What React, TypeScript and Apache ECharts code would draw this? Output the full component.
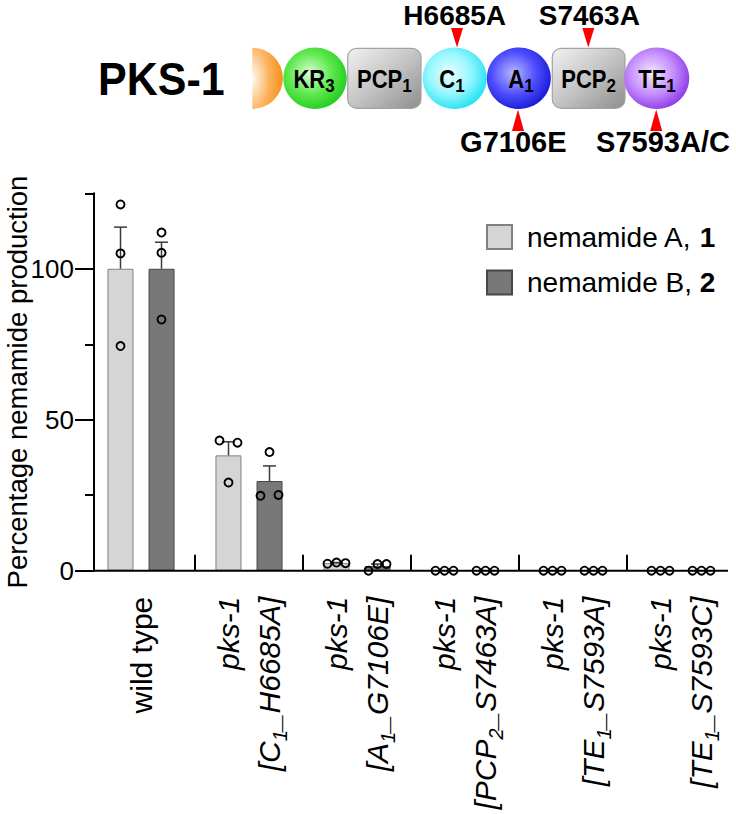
import React, { useEffect, useRef } from 'react';
import * as echarts from 'echarts';

// ---------- data ----------
const categories = [
  'wild type',
  'pks-1 [C1_H6685A]',
  'pks-1 [A1_G7106E]',
  'pks-1 [PCP2_S7463A]',
  'pks-1 [TE1_S7593A]',
  'pks-1 [TE1_S7593C]',
];
const seriesNames = ['nemamide A, 1', 'nemamide B, 2'];
const meanA = [100, 38.2, 2.5, 0, 0, 0];
const meanB = [100, 29.7, 1.5, 0, 0, 0];
const semA = [13.8, 4.5, 0.2, 0, 0, 0];
const semB = [8.8, 5.0, 0.7, 0, 0, 0];
const pointsA = [
  [121.3, 105.1, 74.4],
  [43.1, 42.4, 29.2],
  [2.3, 2.7, 2.5],
  [0, 0, 0],
  [0, 0, 0],
  [0, 0, 0],
];
const pointsB = [
  [112.0, 105.3, 83.2],
  [39.3, 24.8, 25.1],
  [0, 2.2, 2.2],
  [0, 0, 0],
  [0, 0, 0],
  [0, 0, 0],
];
// horizontal scatter slot of each point (-1 left, 0 centre, +1 right)
const jitterA = [[0, 0, 0], [-1, 1, 0], [-1, 0, 1], [-1, 0, 1], [-1, 0, 1], [-1, 0, 1]];
const jitterB = [[0, 0, 0], [0, -1, 1], [-1, 0, 1], [-1, 0, 1], [-1, 0, 1], [-1, 0, 1]];
const yMajorTicks = [0, 50, 100];
const yMinorTicks = [25, 75, 125];
const yMax = 125;
const yTitle = 'Percentage nemamide production';
const proteinName = 'PKS-1';
const domainNames = [['KR', '3'], ['PCP', '1'], ['C', '1'], ['A', '1'], ['PCP', '2'], ['TE', '1']];
const mutationsTop = ['H6685A', 'S7463A'];
const mutationsBottom = ['G7106E', 'S7593A/C'];

// ---------- layout / style ----------
const F = '"Liberation Sans", Arial, Helvetica, sans-serif';
const GRID_LEFT = 87;
const GRID_TOP = 193.3;
const GRID_W = 648;
const GRID_H = 377.4;
const Y_INSET = 7; // y axis sits 7px inside the first category band
const SERIES_SHIFT = 20.5 / 108; // bar centre offset in category units
const JITTER = 9 / 108;
const COLORS = ['#d5d5d5', '#787878'];
const BORDERS = ['#808080', '#474747'];

let measureCtx: CanvasRenderingContext2D | null = null;
function textWidth(text: string, size: number, weight = 'bold') {
  if (!measureCtx) {
    const c = document.createElement('canvas');
    measureCtx = c.getContext('2d');
  }
  if (!measureCtx) return text.length * size * 0.6;
  measureCtx.font = `${weight} ${size}px ${F}`;
  return measureCtx.measureText(text).width;
}

function xLabel(v: string) {
  if (!v.startsWith('pks-1 ')) return `{n|${v}}`;
  const rest = v.slice(6);
  const m = rest.match(/^\[([A-Z]+)(\d)(_.*)$/);
  if (!m) return `{i|pks-1}\n{i|${rest}}`;
  return `{i|pks-1}\n{i|[${m[1]}}{s|${m[2]}}{i|${m[3]}}`;
}

function diagram(): any[] {
  const CY = 78.3;
  const RY = 30.7;
  const els: any[] = [];
  const radial = (stops: string[], x = 0.42, y = 0.42, r = 0.62) => ({
    type: 'radial', x, y, r,
    colorStops: [
      { offset: 0, color: stops[0] },
      { offset: 0.55, color: stops[1] },
      { offset: 1, color: stops[2] },
    ],
  });
  const grayFill = {
    type: 'linear', x: 0, y: 0, x2: 1, y2: 1,
    colorStops: [
      { offset: 0, color: '#f2f2f2' },
      { offset: 0.5, color: '#c4c4c4' },
      { offset: 1, color: '#8e8e8e' },
    ],
  };
  const MAIN = 22;
  const SUB = 17;
  const SY = 1.13;
  const label = (cx: number, main: string, sub: string) => {
    const wm = textWidth(main, MAIN);
    const ws = textWidth(sub, SUB);
    const left = cx - (wm + ws) / 2;
    els.push({
      type: 'text', x: left, y: 87.8 - 0.3465 * MAIN * SY, scaleY: SY, z: 20,
      style: { text: main, fontSize: MAIN, fontWeight: 'bold', fontFamily: F, fill: '#000', align: 'left', verticalAlign: 'middle' },
    });
    els.push({
      type: 'text', x: left + wm, y: 92.7 - 0.3465 * SUB * SY, scaleY: SY, z: 20,
      style: { text: sub, fontSize: SUB, fontWeight: 'bold', fontFamily: F, fill: '#000', align: 'left', verticalAlign: 'middle' },
    });
  };
  // orange half domain
  els.push({
    type: 'sector', z: 10,
    shape: { cx: 252.3, cy: CY, r: 30.6, r0: 0, startAngle: -Math.PI / 2, endAngle: Math.PI / 2, clockwise: true },
    style: { fill: radial(['#fffaf2', '#fbb25e', '#f7901a'], 0, 0.5, 1) },
  });
  // KR3
  els.push({ type: 'ellipse', z: 10, shape: { cx: 315, cy: CY, rx: 31.7, ry: RY }, style: { fill: radial(['#dcfdd4', '#5fe84f', '#22cc1e']) } });
  label(314, domainNames[0][0], domainNames[0][1]);
  // PCP1
  els.push({ type: 'rect', z: 10, shape: { x: 347.7, y: 48.3, width: 73.3, height: 60, r: 9 }, style: { fill: grayFill, stroke: '#a3a3a3', lineWidth: 1.2 } });
  label(384.3, domainNames[1][0], domainNames[1][1]);
  // C1
  els.push({ type: 'ellipse', z: 10, shape: { cx: 454.7, cy: CY, rx: 32, ry: RY }, style: { fill: radial(['#eaffff', '#94f6ff', '#1fe2f0']) } });
  label(452, domainNames[2][0], domainNames[2][1]);
  // A1
  els.push({ type: 'ellipse', z: 10, shape: { cx: 518.8, cy: CY, rx: 32, ry: RY }, style: { fill: radial(['#b8b8ff', '#5050ff', '#1818d6']) } });
  label(521, domainNames[3][0], domainNames[3][1]);
  // PCP2
  els.push({ type: 'rect', z: 10, shape: { x: 552.3, y: 48.3, width: 72.7, height: 60, r: 9 }, style: { fill: grayFill, stroke: '#a3a3a3', lineWidth: 1.2 } });
  label(588.6, domainNames[4][0], domainNames[4][1]);
  // TE1
  els.push({ type: 'ellipse', z: 10, shape: { cx: 656.7, cy: CY, rx: 32.5, ry: RY }, style: { fill: radial(['#f3e8ff', '#c58eff', '#8d38e6']) } });
  label(657, domainNames[5][0], domainNames[5][1]);

  // protein name
  els.push({
    type: 'text', x: 161.3, y: 78.6, scaleY: 1.06, z: 20,
    style: { text: proteinName, fontSize: 43, fontWeight: 'bold', fontFamily: F, fill: '#000', align: 'center', verticalAlign: 'middle' },
  });

  // mutation labels + red triangles
  const topX = [454.7, 589.3];
  const topTri = [457, 588.3];
  mutationsTop.forEach((t, i) => {
    els.push({ type: 'text', x: topX[i], y: 15.8, z: 20, style: { text: t, fontSize: 28, fontWeight: 'bold', fontFamily: F, fill: '#000', align: 'center', verticalAlign: 'middle' } });
    const x = topTri[i];
    els.push({ type: 'polygon', z: 21, shape: { points: [[x - 6, 28], [x + 6, 28], [x, 47.5]] }, style: { fill: '#ff0000' } });
  });
  const botX = [513.3, 663];
  const botTri = [518, 656.2];
  mutationsBottom.forEach((t, i) => {
    els.push({ type: 'text', x: botX[i], y: 142, z: 20, style: { text: t, fontSize: 29, fontWeight: 'bold', fontFamily: F, fill: '#000', align: 'center', verticalAlign: 'middle' } });
    const x = botTri[i];
    els.push({ type: 'polygon', z: 21, shape: { points: [[x - 6, 131], [x + 6, 131], [x, 109.5]] }, style: { fill: '#ff0000' } });
  });

  // x axis base line (from the y axis to the end of the plot)
  const y0 = GRID_TOP + GRID_H;
  els.push({
    type: 'line', z: 5,
    shape: { x1: GRID_LEFT + Y_INSET, y1: y0, x2: GRID_LEFT + GRID_W - Y_INSET, y2: y0 },
    style: { stroke: '#000', lineWidth: 2 },
  });
  return els;
}

function buildOption(): any {
  const meansList = [meanA, meanB];
  const semList = [semA, semB];
  const ptsList = [pointsA, pointsB];
  const jitList = [jitterA, jitterB];

  const barSeries = seriesNames.map((name, s) => ({
    name,
    type: 'bar',
    xAxisIndex: 0,
    yAxisIndex: 0,
    data: meansList[s],
    barWidth: 26,
    barGap: '58%',
    z: 2,
    itemStyle: { color: COLORS[s], borderColor: BORDERS[s], borderWidth: 1 },
  }));

  const errSeries = seriesNames.map((name, s) => {
    const sign = s === 0 ? -1 : 1;
    const data: number[][] = [];
    meansList[s].forEach((m, c) => {
      if (semList[s][c] > 0) data.push([c + 0.5 + sign * SERIES_SHIFT, m, m + semList[s][c]]);
    });
    return {
      name: name + ' SEM',
      type: 'custom',
      xAxisIndex: 1,
      yAxisIndex: 0,
      z: 3,
      clip: false,
      data,
      encode: { x: 0, y: [1, 2] },
      renderItem: (params: any, api: any) => {
        const x = api.value(0);
        const b = api.coord([x, api.value(1)]);
        const t = api.coord([x, api.value(2)]);
        const st = { stroke: '#3a3a3a', lineWidth: 1.5 };
        return {
          type: 'group',
          children: [
            { type: 'line', shape: { x1: b[0], y1: b[1], x2: t[0], y2: t[1] }, style: st },
            { type: 'line', shape: { x1: t[0] - 6.5, y1: t[1], x2: t[0] + 6.5, y2: t[1] }, style: st },
          ],
        };
      },
    };
  });

  const ptSeries = seriesNames.map((name, s) => {
    const sign = s === 0 ? -1 : 1;
    const data: number[][] = [];
    ptsList[s].forEach((vals, c) => {
      vals.forEach((v, k) => {
        data.push([c + 0.5 + sign * SERIES_SHIFT + jitList[s][c][k] * JITTER, v]);
      });
    });
    return {
      name: name + ' points',
      type: 'scatter',
      xAxisIndex: 1,
      yAxisIndex: 0,
      z: 4,
      clip: false,
      symbol: 'circle',
      symbolSize: 8,
      data,
      itemStyle: { color: 'rgba(0,0,0,0)', borderColor: '#000', borderWidth: 1.9, opacity: 1 },
    };
  });

  return {
    animation: false,
    backgroundColor: '#fff',
    textStyle: { fontFamily: F, color: '#000' },
    grid: {
      left: GRID_LEFT, top: GRID_TOP, width: GRID_W, height: GRID_H,
      containLabel: false, outerBoundsMode: 'none',
    },
    legend: {
      data: seriesNames,
      orient: 'vertical',
      left: 486,
      top: 223,
      padding: 0,
      itemWidth: 25,
      itemHeight: 24,
      itemGap: 17.5,
      icon: 'rect',
      selectedMode: false,
      formatter: (name: string) => {
        const idx = name.lastIndexOf(', ');
        return `{sp| }{t|${name.slice(0, idx + 2)}}{b|${name.slice(idx + 2)}}`;
      },
      textStyle: {
        rich: {
          sp: { width: 10, fontSize: 28 },
          t: { fontSize: 28, color: '#000', fontFamily: F },
          b: { fontSize: 28, color: '#000', fontWeight: 'bold', fontFamily: F },
        },
      },
    },
    xAxis: [
      {
        type: 'category',
        gridIndex: 0,
        data: categories,
        axisLine: { show: false },
        axisTick: { show: false },
        axisLabel: {
          interval: 0,
          rotate: 90,
          margin: 26,
          color: '#000',
          formatter: xLabel,
          rich: {
            n: { fontSize: 30, lineHeight: 41, color: '#000', fontFamily: F },
            i: { fontSize: 30, lineHeight: 41, fontStyle: 'italic', color: '#000', fontFamily: F },
            s: { fontSize: 20, lineHeight: 22, fontStyle: 'italic', verticalAlign: 'bottom', color: '#000', fontFamily: F },
          },
        },
      },
      {
        type: 'value',
        gridIndex: 0,
        min: 0,
        max: categories.length,
        axisLine: { show: false },
        axisLabel: { show: false },
        splitLine: { show: false },
        axisTick: {
          show: true,
          customValues: categories.slice(1).map((_, i) => i + 1),
          length: 16,
          lineStyle: { color: '#000', width: 2 },
        },
      },
    ],
    yAxis: [
      {
        type: 'value',
        min: 0,
        max: yMax,
        offset: -Y_INSET,
        position: 'left',
        axisLine: { show: true, lineStyle: { color: '#000', width: 2 } },
        axisTick: { show: true, customValues: yMajorTicks, length: 19, lineStyle: { color: '#000', width: 2 } },
        axisLabel: { customValues: yMajorTicks, margin: 20, fontSize: 26, color: '#000', fontFamily: F },
        splitLine: { show: false },
        name: yTitle,
        nameLocation: 'middle',
        nameRotate: 90,
        nameGap: 63,
        nameMoveOverlap: false,
        nameTextStyle: { fontSize: 27.5, color: '#000', fontFamily: F },
      },
      {
        type: 'value',
        min: 0,
        max: yMax,
        offset: -Y_INSET,
        position: 'left',
        axisLine: { show: false },
        axisTick: { show: true, customValues: yMinorTicks, length: 9, lineStyle: { color: '#000', width: 2 } },
        axisLabel: { show: false },
        splitLine: { show: false },
      },
    ],
    graphic: diagram(),
    series: [...barSeries, ...errSeries, ...ptSeries],
  };
}

export default function App() {
  const ref = useRef<HTMLDivElement>(null);
  useEffect(() => {
    if (!ref.current) return;
    const chart = echarts.init(ref.current, undefined, { renderer: 'svg' });
    chart.setOption(buildOption());
    return () => {
      chart.dispose();
    };
  }, []);
  return (
    <div
      ref={ref}
      style={{ position: 'fixed', left: 0, top: 0, width: 736, height: 814, background: '#fff' }}
    />
  );
}
